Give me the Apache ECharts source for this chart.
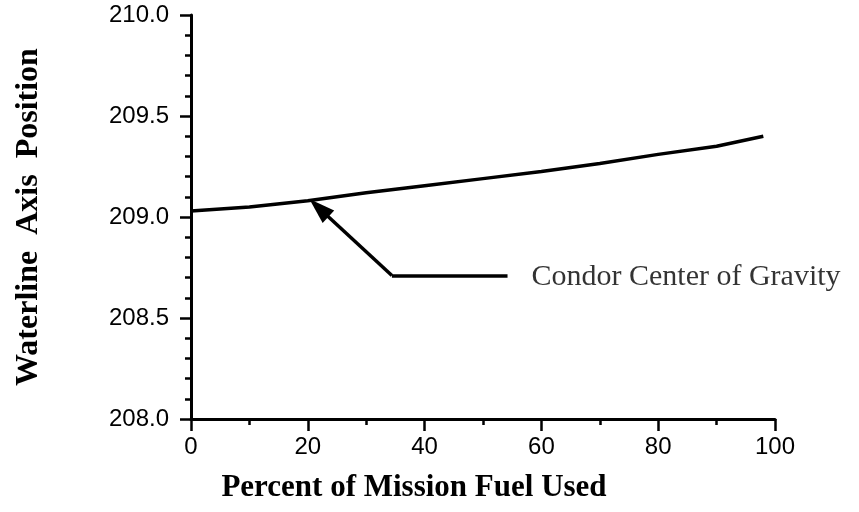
<!DOCTYPE html>
<html>
<head>
<meta charset="utf-8">
<script src="https://cdn.jsdelivr.net/npm/echarts@6/dist/echarts.min.js"></script>
<style>
html, body { margin: 0; padding: 0; background: #fff; }
#chart { width: 859px; height: 512px; }
</style>
</head>
<body>
<div id="chart"></div>
<script>
var chart = echarts.init(document.getElementById("chart"));

// percent of mission fuel used vs waterline position of the CG
var fuelUsed = [0, 10, 20, 30, 40, 50, 60, 70, 80, 90, 98];
var waterline = [209.03, 209.05, 209.08, 209.12, 209.155, 209.19, 209.225, 209.265, 209.31, 209.35, 209.40];

// callout: label anchor, elbow of the leader, arrow end
var labelText = "Condor Center of Gravity";
var labelAt = [58.3, 208.70];
var leaderStart = [54.2, 208.71];
var leaderElbow = [34.4, 208.71];
var arrowEnd = [21.9, 209.045];

var lineData = fuelUsed.map(function (x, i) { return [x, waterline[i]]; });

var option = {
    animation: false,
    backgroundColor: "#fff",
    grid: {
        left: 191,
        right: 84,
        top: 15,
        bottom: 93
    },
    xAxis: {
        type: "value",
        min: 0,
        max: 100,
        interval: 20,
        name: "Percent of Mission Fuel Used",
        nameLocation: "middle",
        nameGap: 53,
        nameTextStyle: {
            fontFamily: "Liberation Serif",
            fontWeight: "bold",
            fontSize: 31,
            color: "#000",
            padding: [0, 138, 0, 0]
        },
        axisLine: { lineStyle: { color: "#000", width: 3 } },
        axisTick: { length: 12, lineStyle: { color: "#000", width: 2.5 } },
        minorTick: { show: true, splitNumber: 2, length: 6, lineStyle: { color: "#000", width: 2.5 } },
        splitLine: { show: false },
        minorSplitLine: { show: false },
        axisLabel: {
            margin: 16,
            fontFamily: "Liberation Sans",
            fontSize: 24,
            color: "#000"
        }
    },
    yAxis: {
        type: "value",
        min: 208,
        max: 210,
        interval: 0.5,
        name: "Waterline  Axis  Position",
        nameLocation: "middle",
        nameGap: 146,
        nameTextStyle: {
            fontFamily: "Liberation Serif",
            fontWeight: "bold",
            fontSize: 32,
            color: "#000"
        },
        axisLine: { show: true, lineStyle: { color: "#000", width: 3 } },
        axisTick: { show: true, length: 11, lineStyle: { color: "#000", width: 2.5 } },
        minorTick: { show: true, splitNumber: 5, length: 6, lineStyle: { color: "#000", width: 2.5 } },
        splitLine: { show: false },
        minorSplitLine: { show: false },
        axisLabel: {
            margin: 22,
            fontFamily: "Liberation Sans",
            fontSize: 24,
            color: "#000",
            formatter: function (v) { return v.toFixed(1); }
        }
    },
    series: [
        {
            name: "CG",
            type: "line",
            data: lineData,
            symbol: "none",
            lineStyle: { color: "#000", width: 3.5 },
            z: 3
        },
        {
            name: "callout",
            type: "line",
            data: [],
            markLine: {
                silent: true,
                animation: false,
                symbol: ["none", "none"],
                label: { show: false },
                lineStyle: { color: "#000", width: 3.5, type: "solid" },
                data: [
                    [
                        { coord: leaderStart, symbol: "none" },
                        { coord: leaderElbow, symbol: "none" }
                    ],
                    [
                        { coord: leaderElbow, symbol: "none" },
                        { coord: arrowEnd, symbol: "triangle", symbolSize: [17, 26] }
                    ]
                ]
            }
        },
        {
            name: "label",
            type: "scatter",
            data: [labelAt],
            symbolSize: 0,
            silent: true,
            label: {
                show: true,
                position: "right",
                distance: 0,
                formatter: labelText,
                fontFamily: "Liberation Serif",
                fontSize: 30,
                color: "#000"
            }
        }
    ]
};

chart.setOption(option);
</script>
</body>
</html>
